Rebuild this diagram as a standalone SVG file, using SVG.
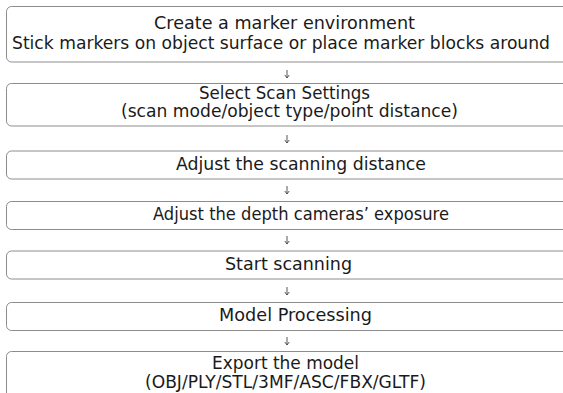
<svg xmlns="http://www.w3.org/2000/svg" width="563" height="393" viewBox="0 0 563 393">
<defs>
<style>
.box{fill:#fff;stroke:#8c8c8c;stroke-width:1}
.t{font-family:"DejaVu Sans","Open Sans",sans-serif;font-size:17px;fill:#1a1a1a}
.c{stroke:#444;stroke-width:0.9;fill:none}
</style>
<marker id="ah" viewBox="0 0 6 6" refX="5.5" refY="3" markerWidth="6" markerHeight="6" markerUnits="userSpaceOnUse" orient="auto">
<path d="M2.5,0.8 L5.5,3 L2.5,5.2" fill="none" stroke="#444" stroke-width="0.9"/>
</marker>
</defs>
<rect width="563" height="393" fill="#fff"/>
<g id="n1"><rect class="box" x="6.5" y="6.5" width="562" height="55.5" rx="5"/>
<text class="t" x="154" y="29" textLength="261" lengthAdjust="spacingAndGlyphs">Create a marker environment</text>
<text class="t" x="12" y="49" textLength="538" lengthAdjust="spacingAndGlyphs">Stick markers on object surface or place marker blocks around</text></g>
<g id="n2"><rect class="box" x="6.5" y="83.5" width="562" height="42.5" rx="5"/>
<text class="t" x="199" y="98.5" textLength="171" lengthAdjust="spacingAndGlyphs">Select Scan Settings</text>
<text class="t" x="121" y="117" textLength="337" lengthAdjust="spacingAndGlyphs">(scan mode/object type/point distance)</text></g>
<g id="n3"><rect class="box" x="6.5" y="151" width="562" height="28" rx="5"/>
<text class="t" x="176" y="170" textLength="250" lengthAdjust="spacingAndGlyphs">Adjust the scanning distance</text></g>
<g id="n4"><rect class="box" x="6.5" y="201.5" width="562" height="28" rx="5"/>
<text class="t" x="153" y="220" textLength="296" lengthAdjust="spacingAndGlyphs">Adjust the depth cameras’ exposure</text></g>
<g id="n5"><rect class="box" x="6.5" y="251" width="562" height="28" rx="5"/>
<text class="t" x="225" y="270" textLength="127" lengthAdjust="spacingAndGlyphs">Start scanning</text></g>
<g id="n6"><rect class="box" x="6.5" y="302.5" width="562" height="28" rx="5"/>
<text class="t" x="219" y="321" textLength="153" lengthAdjust="spacingAndGlyphs">Model Processing</text></g>
<g id="n7"><rect class="box" x="6.5" y="351.5" width="562" height="60" rx="5"/>
<text class="t" x="212" y="369" textLength="147" lengthAdjust="spacingAndGlyphs">Export the model</text>
<text class="t" x="145" y="387.5" textLength="281" lengthAdjust="spacingAndGlyphs">(OBJ/PLY/STL/3MF/ASC/FBX/GLTF)</text></g>
<g id="connectors">
<path class="c" d="M287,70 V78" marker-end="url(#ah)"/>
<path class="c" d="M287,135 V143" marker-end="url(#ah)"/>
<path class="c" d="M287,186 V194" marker-end="url(#ah)"/>
<path class="c" d="M287,236 V244" marker-end="url(#ah)"/>
<path class="c" d="M287,287 V295" marker-end="url(#ah)"/>
<path class="c" d="M287,337 V345" marker-end="url(#ah)"/>
</g>
</svg>
